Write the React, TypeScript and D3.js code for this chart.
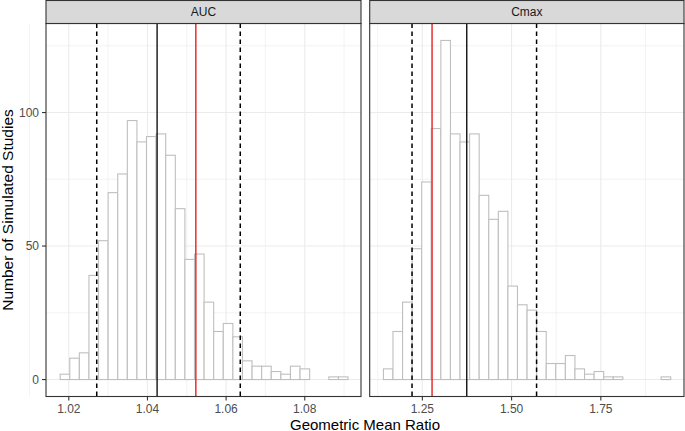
import React, { useEffect, useRef } from 'react';
import * as d3 from 'd3';

// histogram counts (30 bins each)
const aucCounts = [2, 8, 10, 39, 52, 70, 77, 97, 89, 91, 92, 84, 64, 45, 47, 29, 18, 21, 16, 7, 5, 5, 3, 2, 5, 4, 0, 0, 1, 1];
const cmaxCounts = [4, 18, 29, 49, 74, 94, 127, 92, 89, 92, 69, 60, 63, 35, 28, 26, 18, 6, 6, 9, 4, 2, 3, 1, 1, 0, 0, 0, 0, 1];

const aucBinStart = 1.0178;
const aucBinWidth = 0.00244;
const cmaxBinStart = 1.1409;
const cmaxBinWidth = 0.02683;

// reference lines: 5th / median / 95th percentiles and observed (red)
const aucLines = { lower: 1.0271, median: 1.04245, upper: 1.0636, observed: 1.0523 };
const cmaxLines = { lower: 1.2211, median: 1.3744, upper: 1.570, observed: 1.2772 };

const aucTicks = [1.02, 1.04, 1.06, 1.08];
const aucMinor = [1.01, 1.03, 1.05, 1.07, 1.09];
const cmaxTicks = [1.25, 1.5, 1.75];
const cmaxMinor = [1.125, 1.375, 1.625, 1.875];
const yTicks = [0, 50, 100];
const yMinor = [25, 75, 125];

const panelNames = ['AUC', 'Cmax'];

const W = 685;
const H = 431;

const App: React.FC = () => {
  const svgRef = useRef<SVGSVGElement>(null);

  useEffect(() => {
    if (!svgRef.current) return;
    const svg = d3.select(svgRef.current);
    svg.selectAll('*').remove();

    const top = 23.5;
    const bottom = 396.5;
    const stripTop = 0.5;
    const font = '"Liberation Sans", Arial, Helvetica, sans-serif';

    const y = d3.scaleLinear().domain([-6.35, 133.35]).range([bottom, top]);

    const panels = [
      {
        name: panelNames[0], x0: 46, x1: 361, domain: [1.0142, 1.0943],
        counts: aucCounts, start: aucBinStart, width: aucBinWidth, lines: aucLines,
        ticks: aucTicks, minor: aucMinor, fmt: d3.format('.2f'),
      },
      {
        name: panelNames[1], x0: 369.7, x1: 684, domain: [1.1025, 1.983],
        counts: cmaxCounts, start: cmaxBinStart, width: cmaxBinWidth, lines: cmaxLines,
        ticks: cmaxTicks, minor: cmaxMinor, fmt: d3.format('.2f'),
      },
    ];

    panels.forEach((p, pi) => {
      const x = d3.scaleLinear().domain(p.domain).range([p.x0, p.x1]);
      const g = svg.append('g');

      // panel background
      g.append('rect')
        .attr('x', p.x0).attr('y', top)
        .attr('width', p.x1 - p.x0).attr('height', bottom - top)
        .attr('fill', 'white');

      // minor grid
      g.selectAll('.ymin').data(yMinor).enter().append('line')
        .attr('x1', p.x0).attr('x2', p.x1)
        .attr('y1', d => y(d)).attr('y2', d => y(d))
        .attr('stroke', '#EBEBEB').attr('stroke-width', 0.6);
      g.selectAll('.xmin').data(p.minor).enter().append('line')
        .attr('x1', d => x(d)).attr('x2', d => x(d))
        .attr('y1', top).attr('y2', bottom)
        .attr('stroke', '#EBEBEB').attr('stroke-width', 0.6);
      // major grid
      g.selectAll('.ymaj').data(yTicks).enter().append('line')
        .attr('x1', p.x0).attr('x2', p.x1)
        .attr('y1', d => y(d)).attr('y2', d => y(d))
        .attr('stroke', '#EBEBEB').attr('stroke-width', 1.1);
      g.selectAll('.xmaj').data(p.ticks).enter().append('line')
        .attr('x1', d => x(d)).attr('x2', d => x(d))
        .attr('y1', top).attr('y2', bottom)
        .attr('stroke', '#EBEBEB').attr('stroke-width', 1.1);

      // histogram bars
      g.selectAll('.bar').data(p.counts).enter().append('rect')
        .attr('x', (_, i) => x(p.start + i * p.width))
        .attr('width', (_, i) => x(p.start + (i + 1) * p.width) - x(p.start + i * p.width))
        .attr('y', d => y(d))
        .attr('height', d => y(0) - y(d))
        .attr('fill', 'white')
        .attr('stroke', '#BFBFBF')
        .attr('stroke-width', 1.1);

      // reference lines
      const vline = (v: number, color: string, dash: string | null, w: number) => {
        const l = g.append('line')
          .attr('x1', x(v)).attr('x2', x(v))
          .attr('y1', top).attr('y2', bottom)
          .attr('stroke', color).attr('stroke-width', w);
        if (dash) l.attr('stroke-dasharray', dash);
      };
      vline(p.lines.lower, 'black', '4.5,3.5', 1.5);
      vline(p.lines.upper, 'black', '4.5,3.5', 1.5);
      vline(p.lines.median, 'black', null, 1.3);
      vline(p.lines.observed, '#E5302D', null, 1.5);

      // panel border
      g.append('rect')
        .attr('x', p.x0).attr('y', top)
        .attr('width', p.x1 - p.x0).attr('height', bottom - top)
        .attr('fill', 'none').attr('stroke', '#333333').attr('stroke-width', 1.1);

      // strip
      g.append('rect')
        .attr('x', p.x0).attr('y', stripTop)
        .attr('width', p.x1 - p.x0).attr('height', top - stripTop)
        .attr('fill', '#D9D9D9').attr('stroke', '#333333').attr('stroke-width', 1.1);
      g.append('text')
        .attr('x', (p.x0 + p.x1) / 2).attr('y', (stripTop + top) / 2)
        .attr('dy', '0.36em')
        .attr('text-anchor', 'middle')
        .attr('font-family', font).attr('font-size', 12)
        .attr('fill', '#1A1A1A')
        .text(p.name);

      // x axis ticks
      const ax = g.append('g');
      ax.selectAll('line').data(p.ticks).enter().append('line')
        .attr('x1', d => x(d)).attr('x2', d => x(d))
        .attr('y1', bottom).attr('y2', bottom + 4)
        .attr('stroke', '#333333').attr('stroke-width', 1.1);
      ax.selectAll('text').data(p.ticks).enter().append('text')
        .attr('x', d => x(d)).attr('y', 412.5)
        .attr('text-anchor', 'middle')
        .attr('font-family', font).attr('font-size', 12)
        .attr('fill', '#4D4D4D')
        .text(d => p.fmt(d));

      // y axis only for first panel
      if (pi === 0) {
        const ay = g.append('g');
        ay.selectAll('line').data(yTicks).enter().append('line')
          .attr('x1', p.x0 - 4).attr('x2', p.x0)
          .attr('y1', d => y(d)).attr('y2', d => y(d))
          .attr('stroke', '#333333').attr('stroke-width', 1.1);
        ay.selectAll('text').data(yTicks).enter().append('text')
          .attr('x', p.x0 - 7).attr('y', d => y(d))
          .attr('dy', '0.36em')
          .attr('text-anchor', 'end')
          .attr('font-family', font).attr('font-size', 12)
          .attr('fill', '#4D4D4D')
          .text(d => String(d));
      }
    });

    // axis titles
    svg.append('text')
      .attr('x', (46 + 684) / 2).attr('y', 429.5)
      .attr('text-anchor', 'middle')
      .attr('font-family', font).attr('font-size', 15)
      .attr('fill', 'black')
      .text('Geometric Mean Ratio');
    svg.append('text')
      .attr('transform', `translate(13,${(top + bottom) / 2}) rotate(-90)`)
      .attr('text-anchor', 'middle')
      .attr('font-family', font).attr('font-size', 15.5)
      .attr('fill', 'black')
      .text('Number of Simulated Studies');
  }, []);

  return (
    <svg
      ref={svgRef}
      width={W}
      height={H}
      style={{ position: 'absolute', left: 0, top: 0, background: 'white' }}
    />
  );
};

export default App;
